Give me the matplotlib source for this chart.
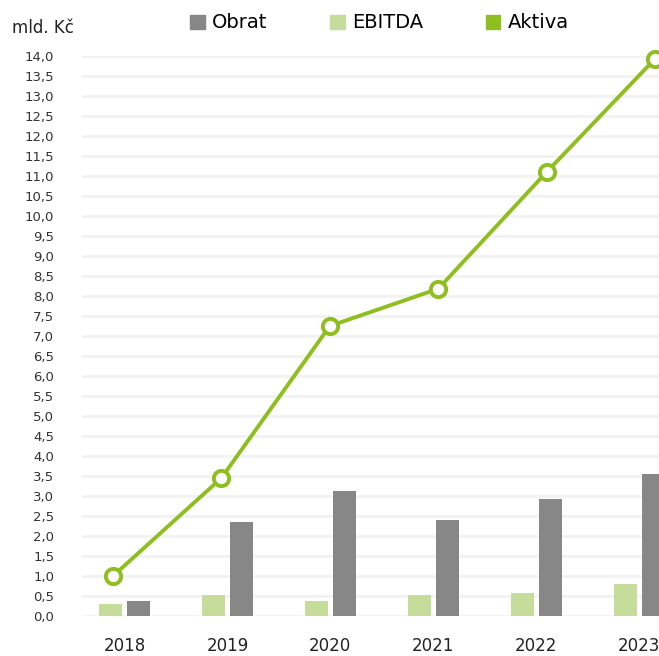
import matplotlib.pyplot as plt
import numpy as np
from matplotlib.patches import Patch

years = ['2018', '2019', '2020', '2021', '2022', '2023']
obrat = [0.38, 2.36, 3.13, 2.40, 2.93, 3.55]
ebitda = [0.30, 0.53, 0.38, 0.53, 0.58, 0.80]
aktiva = [1.0, 3.45, 7.25, 8.18, 11.1, 13.93]

c_obrat = '#878787'
c_ebitda = '#c5dc9b'
c_aktiva = '#8fbe1f'

plt.rcParams['font.family'] = ['DejaVu Sans']

fig = plt.figure(figsize=(6.59, 6.56), dpi=100)
# axes run past the right edge, like the original which is cut off
ax = fig.add_axes([82/659, 40/656, (680-82)/659, 560/656])

x = np.arange(len(years))
w = 0.2235
ax.bar(x - 0.136, ebitda, w, color=c_ebitda, zorder=2)
ax.bar(x + 0.136, obrat, w, color=c_obrat, zorder=2)
ax.set_xlim(-0.413, 5.397)
ax.set_ylim(0, 14)
ax.set_yticks(np.arange(0, 14.01, 0.5))
ax.set_yticklabels([('%.1f' % v).replace('.', ',') for v in np.arange(0, 14.01, 0.5)],
                   fontsize=9.5, color='#333333')
ax.set_xticks(x)
ax.set_xticklabels(years, fontsize=12, color='#222222')
ax.tick_params(axis='y', length=0, pad=20)
ax.tick_params(axis='x', length=0, pad=15)
ax.grid(axis='y', color='#f2f2f2', linewidth=2, zorder=0)
ax.set_axisbelow(True)
for s in ax.spines.values():
    s.set_visible(False)

# line sits on its own x scale (points are spread wider than the bars)
ax2 = ax.twiny()
ax2.set_xlim(-0.286, 5.23)
ax2.set_ylim(0, 14)
ax2.plot(x, aktiva, color=c_aktiva, linewidth=2.8, marker='o', markersize=11,
         markerfacecolor='white', markeredgecolor=c_aktiva, markeredgewidth=2.8,
         clip_on=False, zorder=3)
ax2.set_xticks([])
for s in ax2.spines.values():
    s.set_visible(False)

fig.text(12/659, 1 - 28/656, 'mld. Kč', fontsize=12, color='#222222', va='center')

handles = [Patch(color=c_obrat), Patch(color=c_ebitda), Patch(color=c_aktiva)]
fig.legend(handles, ['Obrat', 'EBITDA', 'Aktiva'], loc='center left',
           bbox_to_anchor=(190/659, 1 - 23/656), ncol=3, frameon=False,
           fontsize=14, handlelength=0.75, handleheight=0.75, handletextpad=0.4,
           columnspacing=3.2, borderpad=0, borderaxespad=0)

fig.savefig('out.png', dpi=100)
